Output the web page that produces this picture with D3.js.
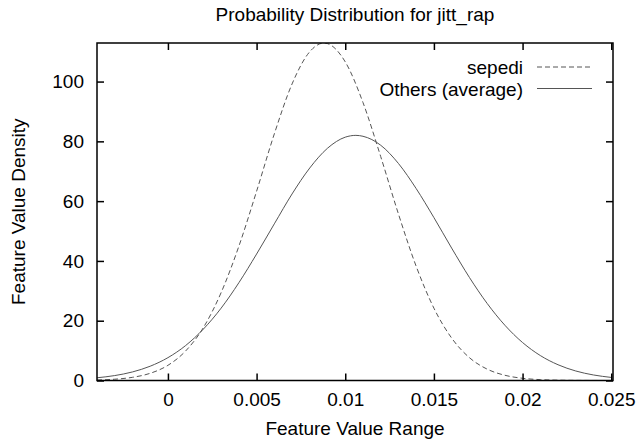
<!DOCTYPE html>
<html>
<head>
<meta charset="utf-8">
<script src="https://cdn.jsdelivr.net/npm/d3@7"></script>
<style>
    body { margin: 0; background: #fff; }
    text { font-family: "Liberation Sans", Arial, sans-serif; fill: #000; }
</style>
</head>
<body>
<div id="canvas"></div>
<script>
// values
const xs = [-0.004, -0.003, -0.002, -0.001, 0, 0.001, 0.002, 0.003, 0.004, 0.005,
    0.006, 0.007, 0.008, 0.009, 0.010, 0.011, 0.012, 0.013, 0.014, 0.015,
    0.016, 0.017, 0.018, 0.019, 0.020, 0.021, 0.022, 0.023, 0.024, 0.025];

const sepediValues = [0.16, 0.43, 1.06, 2.41, 5.08, 9.88, 17.7, 29.4, 44.9, 63.3,
    82.5, 99.2, 110.0, 112.7, 106.6, 93.0, 74.9, 55.7, 38.2, 24.2,
    14.2, 7.65, 3.81, 1.75, 0.74, 0.29, 0.11, 0.04, 0.01, 0.0];

const othersValues = [0.91, 1.65, 2.86, 4.78, 7.64, 11.7, 17.2, 24.2, 32.7, 42.3,
    52.4, 62.4, 71.1, 77.7, 81.4, 81.7, 78.7, 72.6, 64.2, 54.5,
    44.3, 34.5, 25.8, 18.5, 12.7, 8.35, 5.27, 3.18, 1.85, 1.03];

// peaks
const sepediPeak = [0.0088, 112.9];
const othersPeak = [0.0106, 82.0];

const xTicks = [0, 0.005, 0.01, 0.015, 0.02, 0.025];
const xTickLabels = ["0", "0.005", "0.01", "0.015", "0.02", "0.025"];
const yTicks = [0, 20, 40, 60, 80, 100];
const xRange = [-0.004, 0.0251];
const yRange = [0, 112.9];

const seriesNames = ["sepedi", "Others (average)"];

const buildSeries = (values, peak) => {
    let pts = xs.map((x, i) => ({ x: x, y: values[i] }));
    pts.push({ x: peak[0], y: peak[1] });
    pts.sort((a, b) => a.x - b.x);
    return pts;
}

function draw() {
    let margin = {top: 43, right: 23, bottom: 63.5, left: 97};
    let width = 636 - margin.left - margin.right;
    let height = 444 - margin.top - margin.bottom;
    let fontSize = "19px";

    let root = d3.select("#canvas")
        .append("svg")
        .attr("width", 636)
        .attr("height", 444);

    let svg = root.append("g")
        .attr("transform", "translate(" + margin.left + "," + margin.top + ")");

    let x = d3.scaleLinear().domain(xRange).range([0, width]);
    let y = d3.scaleLinear().domain(yRange).range([height, 0]);

    // title
    root.append("text")
        .attr("x", margin.left + width / 2)
        .attr("y", 21)
        .attr("text-anchor", "middle")
        .style("font-size", fontSize)
        .text("Probability Distribution for jitt_rap");

    svg.append("defs").append("clipPath")
        .attr("id", "clip")
        .append("rect")
        .attr("width", width)
        .attr("height", height);

    let line = d3.line()
        .x(d => x(d.x))
        .y(d => y(d.y))
        .curve(d3.curveMonotoneX);

    let plot = svg.append("g").attr("clip-path", "url(#clip)");

    plot.append("path")
        .datum(buildSeries(sepediValues, sepediPeak))
        .attr("fill", "none")
        .attr("stroke", "#555")
        .attr("stroke-width", 1)
        .attr("stroke-dasharray", "5,3")
        .attr("d", line);

    plot.append("path")
        .datum(buildSeries(othersValues, othersPeak))
        .attr("fill", "none")
        .attr("stroke", "#555")
        .attr("stroke-width", 1)
        .attr("d", line);

    // axes with inward ticks, mirrored on top / right
    let tickLen = 7;
    let bottomAxis = svg.append("g")
        .attr("transform", "translate(0," + height + ")")
        .call(d3.axisBottom(x).tickValues(xTicks).tickSize(-tickLen).tickPadding(12)
            .tickFormat((d, i) => xTickLabels[i]));
    let topAxis = svg.append("g")
        .call(d3.axisTop(x).tickValues(xTicks).tickSize(-tickLen).tickFormat(""));
    let leftAxis = svg.append("g")
        .call(d3.axisLeft(y).tickValues(yTicks).tickSize(-tickLen).tickPadding(13));
    let rightAxis = svg.append("g")
        .attr("transform", "translate(" + width + ",0)")
        .call(d3.axisRight(y).tickValues(yTicks).tickSize(-tickLen).tickFormat(""));

    [bottomAxis, topAxis, leftAxis, rightAxis].forEach(a => {
        a.select(".domain").remove();
        a.selectAll(".tick line").attr("stroke", "#000").attr("stroke-width", 1.5);
        a.selectAll(".tick text")
            .style("font-family", "'Liberation Sans', Arial, sans-serif")
            .style("font-size", fontSize)
            .attr("fill", "#000");
    });

    svg.append("rect")
        .attr("width", width)
        .attr("height", height)
        .attr("fill", "none")
        .attr("stroke", "#000")
        .attr("stroke-width", 1.5);

    // axis labels
    root.append("text")
        .attr("x", margin.left + width / 2)
        .attr("y", 435)
        .attr("text-anchor", "middle")
        .style("font-size", fontSize)
        .text("Feature Value Range");

    root.append("text")
        .attr("transform", "translate(25," + (margin.top + height / 2) + ") rotate(-90)")
        .attr("text-anchor", "middle")
        .style("font-size", fontSize)
        .text("Feature Value Density");

    // legend
    let legend = root.append("g");
    seriesNames.forEach((name, i) => {
        let ly = 67 + i * 21.5;
        legend.append("text")
            .attr("x", 523)
            .attr("y", ly + 7)
            .attr("text-anchor", "end")
            .style("font-size", fontSize)
            .text(name);
        legend.append("line")
            .attr("x1", 537).attr("x2", 592)
            .attr("y1", ly).attr("y2", ly)
            .attr("stroke", "#555")
            .attr("stroke-width", 1)
            .attr("stroke-dasharray", i === 0 ? "5,3" : null);
    });
}

draw();
</script>
</body>
</html>
